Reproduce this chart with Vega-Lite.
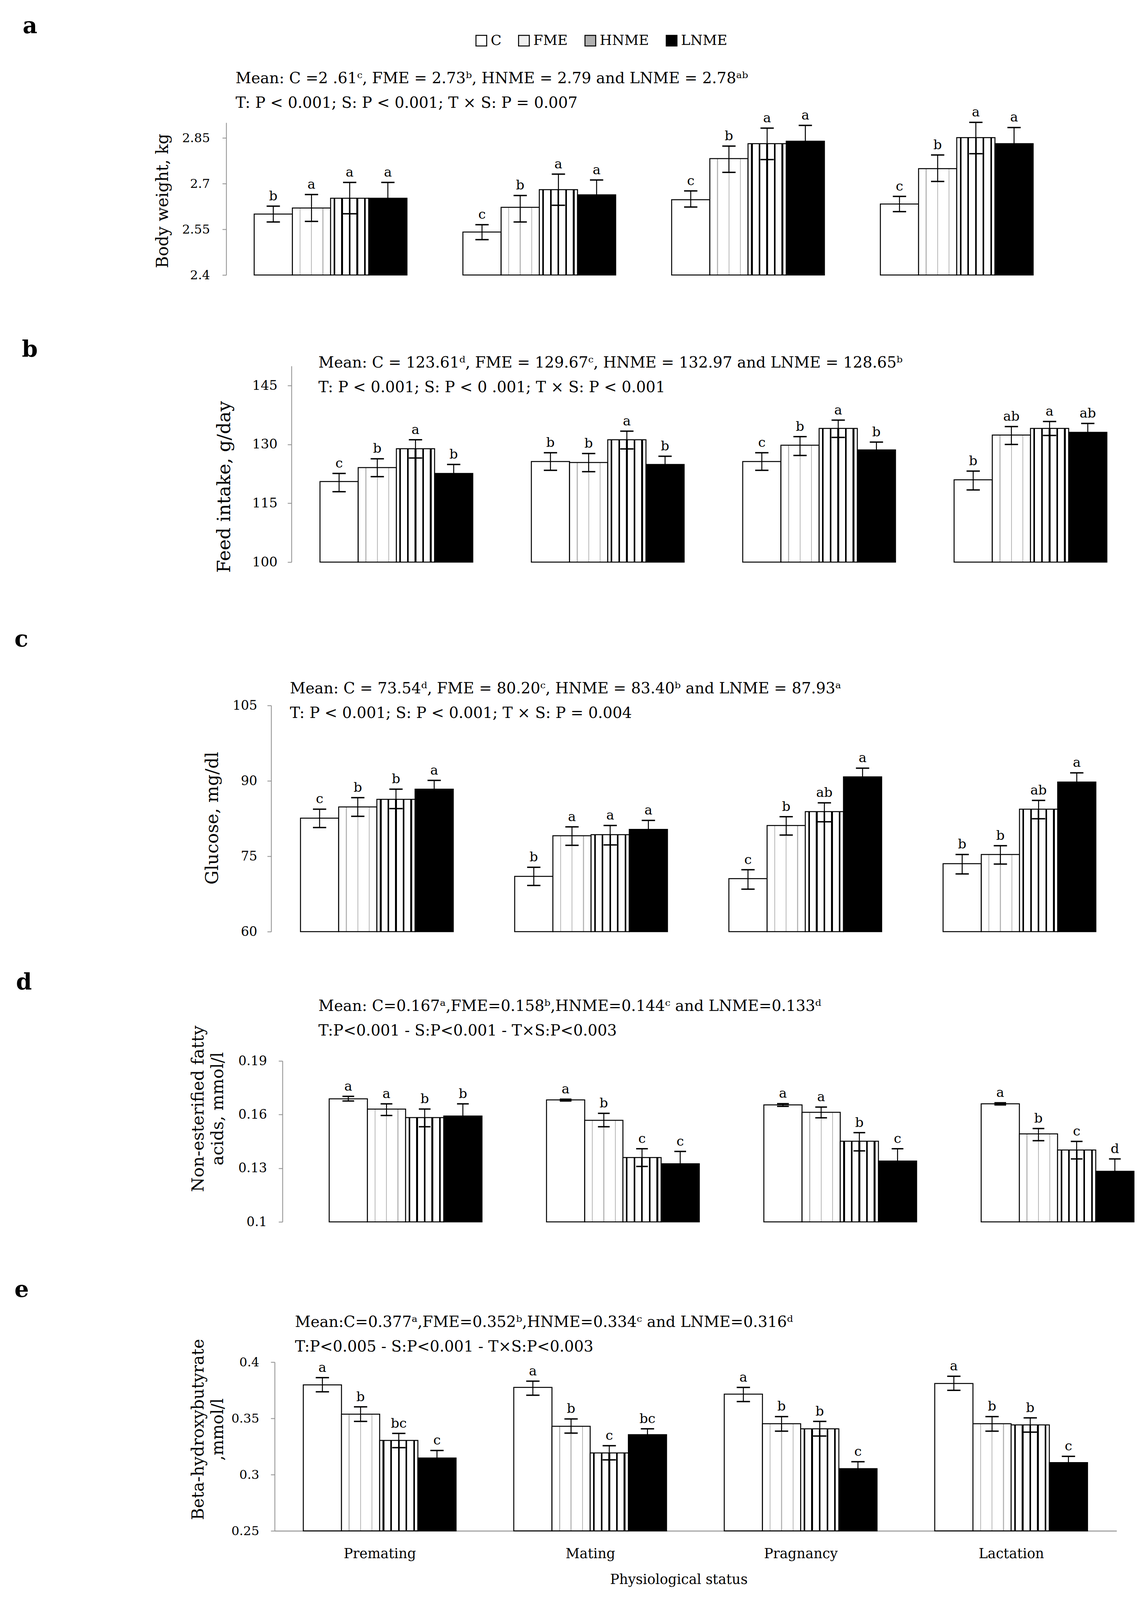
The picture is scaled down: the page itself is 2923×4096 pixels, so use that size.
{
"$schema": "https://vega.github.io/schema/vega-lite/v6.json",
"background": "white",
"padding": {"left": 37, "top": 39, "right": 0, "bottom": 5},
"autosize": {"type": "pad"},
"bounds": "flush",
"spacing": 0,
"config": {"view": {"stroke": null}, "font": "DejaVu Serif", "axis": {"grid": false}},
"datasets": {
"a": [
{"s":"Premating","t":"C","m":2.600,"lo":2.574,"hi":2.626,"g":"b"},
{"s":"Premating","t":"FME","m":2.620,"lo":2.576,"hi":2.664,"g":"a"},
{"s":"Premating","t":"HNME","m":2.652,"lo":2.601,"hi":2.704,"g":"a"},
{"s":"Premating","t":"LNME","m":2.652,"lo":2.600,"hi":2.704,"g":"a"},
{"s":"Mating","t":"C","m":2.541,"lo":2.516,"hi":2.565,"g":"c"},
{"s":"Mating","t":"FME","m":2.622,"lo":2.574,"hi":2.661,"g":"b"},
{"s":"Mating","t":"HNME","m":2.680,"lo":2.629,"hi":2.731,"g":"a"},
{"s":"Mating","t":"LNME","m":2.663,"lo":2.614,"hi":2.712,"g":"a"},
{"s":"Pragnancy","t":"C","m":2.647,"lo":2.623,"hi":2.676,"g":"c"},
{"s":"Pragnancy","t":"FME","m":2.782,"lo":2.737,"hi":2.823,"g":"b"},
{"s":"Pragnancy","t":"HNME","m":2.831,"lo":2.779,"hi":2.882,"g":"a"},
{"s":"Pragnancy","t":"LNME","m":2.839,"lo":2.786,"hi":2.891,"g":"a"},
{"s":"Lactation","t":"C","m":2.633,"lo":2.608,"hi":2.658,"g":"c"},
{"s":"Lactation","t":"FME","m":2.749,"lo":2.707,"hi":2.794,"g":"b"},
{"s":"Lactation","t":"HNME","m":2.851,"lo":2.798,"hi":2.901,"g":"a"},
{"s":"Lactation","t":"LNME","m":2.831,"lo":2.778,"hi":2.884,"g":"a"}
],
"b": [
{"s":"Premating","t":"C","m":120.55,"lo":117.95,"hi":122.6,"g":"c"},
{"s":"Premating","t":"FME","m":124.1,"lo":121.8,"hi":126.35,"g":"b"},
{"s":"Premating","t":"HNME","m":128.9,"lo":126.55,"hi":131.2,"g":"a"},
{"s":"Premating","t":"LNME","m":122.6,"lo":120.3,"hi":124.9,"g":"b"},
{"s":"Mating","t":"C","m":125.65,"lo":123.4,"hi":127.9,"g":"b"},
{"s":"Mating","t":"FME","m":125.4,"lo":123.05,"hi":127.7,"g":"b"},
{"s":"Mating","t":"HNME","m":131.2,"lo":128.85,"hi":133.4,"g":"a"},
{"s":"Mating","t":"LNME","m":124.9,"lo":122.8,"hi":127.0,"g":"b"},
{"s":"Pragnancy","t":"C","m":125.65,"lo":123.4,"hi":127.9,"g":"c"},
{"s":"Pragnancy","t":"FME","m":129.8,"lo":127.2,"hi":132.0,"g":"b"},
{"s":"Pragnancy","t":"HNME","m":134.1,"lo":131.8,"hi":136.2,"g":"a"},
{"s":"Pragnancy","t":"LNME","m":128.6,"lo":126.6,"hi":130.6,"g":"b"},
{"s":"Lactation","t":"C","m":121.0,"lo":118.4,"hi":123.2,"g":"b"},
{"s":"Lactation","t":"FME","m":132.4,"lo":130.0,"hi":134.55,"g":"ab"},
{"s":"Lactation","t":"HNME","m":134.1,"lo":132.3,"hi":135.85,"g":"a"},
{"s":"Lactation","t":"LNME","m":133.1,"lo":130.85,"hi":135.35,"g":"ab"}
],
"c": [
{"s":"Premating","t":"C","m":82.58,"lo":80.71,"hi":84.37,"g":"c"},
{"s":"Premating","t":"FME","m":84.82,"lo":82.95,"hi":86.65,"g":"b"},
{"s":"Premating","t":"HNME","m":86.32,"lo":84.49,"hi":88.35,"g":"b"},
{"s":"Premating","t":"LNME","m":88.35,"lo":86.6,"hi":90.1,"g":"a"},
{"s":"Mating","t":"C","m":71.0,"lo":69.2,"hi":72.8,"g":"b"},
{"s":"Mating","t":"FME","m":79.09,"lo":77.18,"hi":80.84,"g":"a"},
{"s":"Mating","t":"HNME","m":79.29,"lo":77.26,"hi":81.12,"g":"a"},
{"s":"Mating","t":"LNME","m":80.35,"lo":78.56,"hi":82.14,"g":"a"},
{"s":"Pragnancy","t":"C","m":70.56,"lo":68.45,"hi":72.31,"g":"c"},
{"s":"Pragnancy","t":"FME","m":81.12,"lo":79.21,"hi":82.87,"g":"b"},
{"s":"Pragnancy","t":"HNME","m":83.88,"lo":81.85,"hi":85.63,"g":"ab"},
{"s":"Pragnancy","t":"LNME","m":90.79,"lo":89.0,"hi":92.53,"g":"a"},
{"s":"Lactation","t":"C","m":73.53,"lo":71.49,"hi":75.35,"g":"b"},
{"s":"Lactation","t":"FME","m":75.35,"lo":73.44,"hi":77.1,"g":"b"},
{"s":"Lactation","t":"HNME","m":84.37,"lo":82.46,"hi":86.12,"g":"ab"},
{"s":"Lactation","t":"LNME","m":89.77,"lo":87.94,"hi":91.6,"g":"a"}
],
"d": [
{"s":"Premating","t":"C","m":0.1688,"lo":0.1676,"hi":0.1702,"g":"a"},
{"s":"Premating","t":"FME","m":0.1631,"lo":0.1595,"hi":0.1660,"g":"a"},
{"s":"Premating","t":"HNME","m":0.1583,"lo":0.1532,"hi":0.1631,"g":"b"},
{"s":"Premating","t":"LNME","m":0.1592,"lo":0.1524,"hi":0.1660,"g":"b"},
{"s":"Mating","t":"C","m":0.1682,"lo":0.1676,"hi":0.1686,"g":"a"},
{"s":"Mating","t":"FME","m":0.1568,"lo":0.1532,"hi":0.1607,"g":"b"},
{"s":"Mating","t":"HNME","m":0.1360,"lo":0.1310,"hi":0.1409,"g":"c"},
{"s":"Mating","t":"LNME","m":0.1325,"lo":0.1256,"hi":0.1394,"g":"c"},
{"s":"Pragnancy","t":"C","m":0.1654,"lo":0.1646,"hi":0.1661,"g":"a"},
{"s":"Pragnancy","t":"FME","m":0.1613,"lo":0.1582,"hi":0.1642,"g":"a"},
{"s":"Pragnancy","t":"HNME","m":0.1451,"lo":0.1397,"hi":0.1499,"g":"b"},
{"s":"Pragnancy","t":"LNME","m":0.1340,"lo":0.1271,"hi":0.1409,"g":"c"},
{"s":"Lactation","t":"C","m":0.1660,"lo":0.1654,"hi":0.1666,"g":"a"},
{"s":"Lactation","t":"FME","m":0.1492,"lo":0.1454,"hi":0.1522,"g":"b"},
{"s":"Lactation","t":"HNME","m":0.1402,"lo":0.1352,"hi":0.1450,"g":"c"},
{"s":"Lactation","t":"LNME","m":0.1283,"lo":0.1214,"hi":0.1352,"g":"d"}
],
"e": [
{"s":"Premating","t":"C","m":0.3798,"lo":0.3736,"hi":0.3862,"g":"a"},
{"s":"Premating","t":"FME","m":0.3537,"lo":0.3473,"hi":0.3602,"g":"b"},
{"s":"Premating","t":"HNME","m":0.3304,"lo":0.3240,"hi":0.3366,"g":"bc"},
{"s":"Premating","t":"LNME","m":0.3148,"lo":0.3082,"hi":0.3214,"g":"c"},
{"s":"Mating","t":"C","m":0.3775,"lo":0.3706,"hi":0.3831,"g":"a"},
{"s":"Mating","t":"FME","m":0.3430,"lo":0.3369,"hi":0.3495,"g":"b"},
{"s":"Mating","t":"HNME","m":0.3193,"lo":0.3131,"hi":0.3257,"g":"c"},
{"s":"Mating","t":"LNME","m":0.3355,"lo":0.3303,"hi":0.3407,"g":"bc"},
{"s":"Pragnancy","t":"C","m":0.3715,"lo":0.3649,"hi":0.3775,"g":"a"},
{"s":"Pragnancy","t":"FME","m":0.3452,"lo":0.3386,"hi":0.3516,"g":"b"},
{"s":"Pragnancy","t":"HNME","m":0.3407,"lo":0.3343,"hi":0.3473,"g":"b"},
{"s":"Pragnancy","t":"LNME","m":0.3053,"lo":0.2991,"hi":0.3115,"g":"c"},
{"s":"Lactation","t":"C","m":0.3810,"lo":0.3749,"hi":0.3874,"g":"a"},
{"s":"Lactation","t":"FME","m":0.3452,"lo":0.3386,"hi":0.3516,"g":"b"},
{"s":"Lactation","t":"HNME","m":0.3442,"lo":0.3378,"hi":0.3504,"g":"b"},
{"s":"Lactation","t":"LNME","m":0.3107,"lo":0.3052,"hi":0.3162,"g":"c"}
]
},
"vconcat": [
 {"width": 100, "height": 1, "data": {"values": []}, "mark": {"type": "point", "opacity": 0},
  "title": {"text": "a", "anchor": "start", "frame": "group", "dx": 21, "offset": 215, "font": "DejaVu Serif", "fontSize": 58, "fontWeight": "bold", "color": "black"}},
 {"width": 100, "height": 1, "data": {"values": []}, "mark": {"type": "point", "opacity": 0},
  "title": {"text": ["Mean: C =2 .61ᶜ, FME = 2.73ᵇ, HNME = 2.79 and LNME = 2.78ᵃᵇ", "T: P < 0.001; S: P < 0.001; T × S: P = 0.007"], "anchor": "start", "frame": "group", "dx": 566, "offset": 29, "font": "DejaVu Serif", "fontSize": 39, "lineHeight": 63, "fontWeight": "normal", "color": "black", "limit": 3000}},
 {"width": 2679, "height": 390, "data": {"name": "a"},
  "encoding": {
   "x": {"field": "s", "type": "nominal", "sort": ["Premating","Mating","Pragnancy","Lactation"], "scale": {"range": [542, 2679], "paddingInner": 0.268, "paddingOuter": 0.134}, "axis": null},
   "xOffset": {"field": "t", "type": "nominal", "sort": ["C","FME","HNME","LNME"]}
  },
  "layer": [
   {"mark": {"type": "bar", "stroke": "black", "strokeWidth": 2.5},
    "encoding": {
     "y": {"field": "m", "type": "quantitative", "scale": {"domain": [2.4, 2.9], "zero": false, "nice": false},
       "axis": {"title": "Body weight, kg", "offset": -542, "values": [2.4, 2.55, 2.7, 2.85], "format": "~g", "labelFont": "DejaVu Serif", "labelFontSize": 32, "labelColor": "black", "labelPadding": 32, "tickSize": 10, "tickColor": "#8c8c8c", "tickWidth": 2, "domainColor": "#8c8c8c", "domainWidth": 2, "titleFont": "DejaVu Serif", "titleFontSize": 42, "titleFontWeight": "normal", "titleColor": "black", "titleX": -141, "titleY": 200, "titleBaseline": "bottom"}},
     "y2": {"datum": 2.4},
     "fill": {"field": "t", "type": "nominal",
       "scale": {"domain": ["C","FME","HNME","LNME"], "range": ["#ffffff","#f0f0f0","#b0b0b0","#000000"]},
       "legend": {"orient": "none", "legendX": 1177, "legendY": -226, "direction": "horizontal", "columns": 4, "title": null, "symbolType": "square", "symbolSize": 756, "symbolStrokeColor": "black", "symbolStrokeWidth": 2.5, "labelFont": "DejaVu Serif", "labelFontSize": 36, "labelColor": "black", "labelOffset": 6, "columnPadding": 38, "padding": 0},
       "condition": [
        {"test": "datum.t === 'HNME'", "value": {"gradient": "linear", "x1": 0, "y1": 0, "x2": 1, "y2": 0, "stops": [{"offset":0,"color":"#fff"},{"offset":0.078,"color":"#fff"},{"offset":0.078,"color":"#000"},{"offset":0.122,"color":"#000"},{"offset":0.122,"color":"#fff"},{"offset":0.278,"color":"#fff"},{"offset":0.278,"color":"#000"},{"offset":0.322,"color":"#000"},{"offset":0.322,"color":"#fff"},{"offset":0.478,"color":"#fff"},{"offset":0.478,"color":"#000"},{"offset":0.522,"color":"#000"},{"offset":0.522,"color":"#fff"},{"offset":0.678,"color":"#fff"},{"offset":0.678,"color":"#000"},{"offset":0.722,"color":"#000"},{"offset":0.722,"color":"#fff"},{"offset":0.878,"color":"#fff"},{"offset":0.878,"color":"#000"},{"offset":0.922,"color":"#000"},{"offset":0.922,"color":"#fff"},{"offset":1,"color":"#fff"}]}},
        {"test": "datum.t === 'FME'", "value": {"gradient": "linear", "x1": 0, "y1": 0, "x2": 1, "y2": 0, "stops": [{"offset":0,"color":"#fff"},{"offset":0.188,"color":"#fff"},{"offset":0.188,"color":"#b8b8b8"},{"offset":0.212,"color":"#b8b8b8"},{"offset":0.212,"color":"#fff"},{"offset":0.488,"color":"#fff"},{"offset":0.488,"color":"#b8b8b8"},{"offset":0.512,"color":"#b8b8b8"},{"offset":0.512,"color":"#fff"},{"offset":0.788,"color":"#fff"},{"offset":0.788,"color":"#b8b8b8"},{"offset":0.812,"color":"#b8b8b8"},{"offset":0.812,"color":"#fff"},{"offset":1,"color":"#fff"}]}}
       ]}
    }},
   {"mark": {"type": "rule", "stroke": "black", "strokeWidth": 2.5}, "encoding": {"y": {"field": "lo", "type": "quantitative"}, "y2": {"field": "hi"}}},
   {"mark": {"type": "tick", "color": "black", "size": 34, "thickness": 3.5, "opacity": 1}, "encoding": {"y": {"field": "hi", "type": "quantitative"}}},
   {"mark": {"type": "tick", "color": "black", "size": 34, "thickness": 3.5, "opacity": 1}, "encoding": {"y": {"field": "lo", "type": "quantitative"}}},
   {"mark": {"type": "text", "font": "DejaVu Serif", "fontSize": 34, "color": "black", "baseline": "alphabetic", "dy": -15}, "encoding": {"y": {"field": "hi", "type": "quantitative"}, "text": {"field": "g"}}}
  ]},
 {"width": 100, "height": 232, "data": {"values": []}, "mark": {"type": "point", "opacity": 0},
  "title": {"text": "b", "anchor": "start", "frame": "group", "dx": 19, "offset": -221, "font": "DejaVu Serif", "fontSize": 58, "fontWeight": "bold", "color": "black"}},
 {"width": 100, "height": 1, "data": {"values": []}, "mark": {"type": "point", "opacity": 0},
  "title": {"text": ["Mean: C = 123.61ᵈ, FME = 129.67ᶜ, HNME = 132.97 and LNME = 128.65ᵇ", "T: P < 0.001; S: P < 0 .001; T × S: P < 0.001"], "anchor": "start", "frame": "group", "dx": 778, "offset": -76, "font": "DejaVu Serif", "fontSize": 39, "lineHeight": 63, "fontWeight": "normal", "color": "black", "limit": 3000}},
 {"width": 2873, "height": 502, "data": {"name": "b"},
  "encoding": {
   "x": {"field": "s", "type": "nominal", "sort": ["Premating","Mating","Pragnancy","Lactation"], "scale": {"range": [709, 2873], "paddingInner": 0.27, "paddingOuter": 0.135}, "axis": null},
   "xOffset": {"field": "t", "type": "nominal", "sort": ["C","FME","HNME","LNME"]}
  },
  "layer": [
   {"mark": {"type": "bar", "stroke": "black", "strokeWidth": 2.5},
    "encoding": {
     "y": {"field": "m", "type": "quantitative", "scale": {"domain": [100, 150], "zero": false, "nice": false},
       "axis": {"title": "Feed intake, g/day", "offset": -709, "values": [100, 115, 130, 145], "format": "~g", "labelFont": "DejaVu Serif", "labelFontSize": 34, "labelColor": "black", "labelPadding": 26, "tickSize": 10, "tickColor": "#8c8c8c", "tickWidth": 2, "domainColor": "#8c8c8c", "domainWidth": 2, "titleFont": "DejaVu Serif", "titleFontSize": 47, "titleFontWeight": "normal", "titleColor": "black", "titleX": -148, "titleY": 309, "titleBaseline": "bottom"}},
     "y2": {"datum": 100},
     "fill": {"field": "t", "type": "nominal",
       "scale": {"domain": ["C","FME","HNME","LNME"], "range": ["#ffffff","#f0f0f0","#b0b0b0","#000000"]},
       "legend": {"orient": "none", "legendX": 1177, "legendY": -226, "direction": "horizontal", "columns": 4, "title": null, "symbolType": "square", "symbolSize": 756, "symbolStrokeColor": "black", "symbolStrokeWidth": 2.5, "labelFont": "DejaVu Serif", "labelFontSize": 36, "labelColor": "black", "labelOffset": 6, "columnPadding": 38, "padding": 0},
       "condition": [
        {"test": "datum.t === 'HNME'", "value": {"gradient": "linear", "x1": 0, "y1": 0, "x2": 1, "y2": 0, "stops": [{"offset":0,"color":"#fff"},{"offset":0.078,"color":"#fff"},{"offset":0.078,"color":"#000"},{"offset":0.122,"color":"#000"},{"offset":0.122,"color":"#fff"},{"offset":0.278,"color":"#fff"},{"offset":0.278,"color":"#000"},{"offset":0.322,"color":"#000"},{"offset":0.322,"color":"#fff"},{"offset":0.478,"color":"#fff"},{"offset":0.478,"color":"#000"},{"offset":0.522,"color":"#000"},{"offset":0.522,"color":"#fff"},{"offset":0.678,"color":"#fff"},{"offset":0.678,"color":"#000"},{"offset":0.722,"color":"#000"},{"offset":0.722,"color":"#fff"},{"offset":0.878,"color":"#fff"},{"offset":0.878,"color":"#000"},{"offset":0.922,"color":"#000"},{"offset":0.922,"color":"#fff"},{"offset":1,"color":"#fff"}]}},
        {"test": "datum.t === 'FME'", "value": {"gradient": "linear", "x1": 0, "y1": 0, "x2": 1, "y2": 0, "stops": [{"offset":0,"color":"#fff"},{"offset":0.188,"color":"#fff"},{"offset":0.188,"color":"#b8b8b8"},{"offset":0.212,"color":"#b8b8b8"},{"offset":0.212,"color":"#fff"},{"offset":0.488,"color":"#fff"},{"offset":0.488,"color":"#b8b8b8"},{"offset":0.512,"color":"#b8b8b8"},{"offset":0.512,"color":"#fff"},{"offset":0.788,"color":"#fff"},{"offset":0.788,"color":"#b8b8b8"},{"offset":0.812,"color":"#b8b8b8"},{"offset":0.812,"color":"#fff"},{"offset":1,"color":"#fff"}]}}
       ]}
    }},
   {"mark": {"type": "rule", "stroke": "black", "strokeWidth": 2.5}, "encoding": {"y": {"field": "lo", "type": "quantitative"}, "y2": {"field": "hi"}}},
   {"mark": {"type": "tick", "color": "black", "size": 34, "thickness": 3.5, "opacity": 1}, "encoding": {"y": {"field": "hi", "type": "quantitative"}}},
   {"mark": {"type": "tick", "color": "black", "size": 34, "thickness": 3.5, "opacity": 1}, "encoding": {"y": {"field": "lo", "type": "quantitative"}}},
   {"mark": {"type": "text", "font": "DejaVu Serif", "fontSize": 34, "color": "black", "baseline": "alphabetic", "dy": -15}, "encoding": {"y": {"field": "hi", "type": "quantitative"}, "text": {"field": "g"}}}
  ]},
 {"width": 100, "height": 366, "data": {"values": []}, "mark": {"type": "point", "opacity": 0},
  "title": {"text": "c", "anchor": "start", "frame": "group", "dx": 0, "offset": -228, "font": "DejaVu Serif", "fontSize": 58, "fontWeight": "bold", "color": "black"}},
 {"width": 100, "height": 1, "data": {"values": []}, "mark": {"type": "point", "opacity": 0},
  "title": {"text": ["Mean: C = 73.54ᵈ, FME = 80.20ᶜ, HNME = 83.40ᵇ and LNME = 87.93ᵃ", "T: P < 0.001; S: P < 0.001; T × S: P = 0.004"], "anchor": "start", "frame": "group", "dx": 705, "offset": -41, "font": "DejaVu Serif", "fontSize": 39, "lineHeight": 63, "fontWeight": "normal", "color": "black", "limit": 3000}},
 {"width": 2850, "height": 579, "data": {"name": "c"},
  "encoding": {
   "x": {"field": "s", "type": "nominal", "sort": ["Premating","Mating","Pragnancy","Lactation"], "scale": {"range": [657, 2850], "paddingInner": 0.274, "paddingOuter": 0.137}, "axis": null},
   "xOffset": {"field": "t", "type": "nominal", "sort": ["C","FME","HNME","LNME"]}
  },
  "layer": [
   {"mark": {"type": "bar", "stroke": "black", "strokeWidth": 2.5},
    "encoding": {
     "y": {"field": "m", "type": "quantitative", "scale": {"domain": [60, 105], "zero": false, "nice": false},
       "axis": {"title": "Glucose, mg/dl", "offset": -657, "values": [60, 75, 90, 105], "format": "~g", "labelFont": "DejaVu Serif", "labelFontSize": 33, "labelColor": "black", "labelPadding": 26, "tickSize": 10, "tickColor": "#8c8c8c", "tickWidth": 2, "domainColor": "#8c8c8c", "domainWidth": 2, "titleFont": "DejaVu Serif", "titleFontSize": 45, "titleFontWeight": "normal", "titleColor": "black", "titleX": -128, "titleY": 288, "titleBaseline": "bottom"}},
     "y2": {"datum": 60},
     "fill": {"field": "t", "type": "nominal",
       "scale": {"domain": ["C","FME","HNME","LNME"], "range": ["#ffffff","#f0f0f0","#b0b0b0","#000000"]},
       "legend": {"orient": "none", "legendX": 1177, "legendY": -226, "direction": "horizontal", "columns": 4, "title": null, "symbolType": "square", "symbolSize": 756, "symbolStrokeColor": "black", "symbolStrokeWidth": 2.5, "labelFont": "DejaVu Serif", "labelFontSize": 36, "labelColor": "black", "labelOffset": 6, "columnPadding": 38, "padding": 0},
       "condition": [
        {"test": "datum.t === 'HNME'", "value": {"gradient": "linear", "x1": 0, "y1": 0, "x2": 1, "y2": 0, "stops": [{"offset":0,"color":"#fff"},{"offset":0.078,"color":"#fff"},{"offset":0.078,"color":"#000"},{"offset":0.122,"color":"#000"},{"offset":0.122,"color":"#fff"},{"offset":0.278,"color":"#fff"},{"offset":0.278,"color":"#000"},{"offset":0.322,"color":"#000"},{"offset":0.322,"color":"#fff"},{"offset":0.478,"color":"#fff"},{"offset":0.478,"color":"#000"},{"offset":0.522,"color":"#000"},{"offset":0.522,"color":"#fff"},{"offset":0.678,"color":"#fff"},{"offset":0.678,"color":"#000"},{"offset":0.722,"color":"#000"},{"offset":0.722,"color":"#fff"},{"offset":0.878,"color":"#fff"},{"offset":0.878,"color":"#000"},{"offset":0.922,"color":"#000"},{"offset":0.922,"color":"#fff"},{"offset":1,"color":"#fff"}]}},
        {"test": "datum.t === 'FME'", "value": {"gradient": "linear", "x1": 0, "y1": 0, "x2": 1, "y2": 0, "stops": [{"offset":0,"color":"#fff"},{"offset":0.188,"color":"#fff"},{"offset":0.188,"color":"#b8b8b8"},{"offset":0.212,"color":"#b8b8b8"},{"offset":0.212,"color":"#fff"},{"offset":0.488,"color":"#fff"},{"offset":0.488,"color":"#b8b8b8"},{"offset":0.512,"color":"#b8b8b8"},{"offset":0.512,"color":"#fff"},{"offset":0.788,"color":"#fff"},{"offset":0.788,"color":"#b8b8b8"},{"offset":0.812,"color":"#b8b8b8"},{"offset":0.812,"color":"#fff"},{"offset":1,"color":"#fff"}]}}
       ]}
    }},
   {"mark": {"type": "rule", "stroke": "black", "strokeWidth": 2.5}, "encoding": {"y": {"field": "lo", "type": "quantitative"}, "y2": {"field": "hi"}}},
   {"mark": {"type": "tick", "color": "black", "size": 34, "thickness": 3.5, "opacity": 1}, "encoding": {"y": {"field": "hi", "type": "quantitative"}}},
   {"mark": {"type": "tick", "color": "black", "size": 34, "thickness": 3.5, "opacity": 1}, "encoding": {"y": {"field": "lo", "type": "quantitative"}}},
   {"mark": {"type": "text", "font": "DejaVu Serif", "fontSize": 34, "color": "black", "baseline": "alphabetic", "dy": -15}, "encoding": {"y": {"field": "hi", "type": "quantitative"}, "text": {"field": "g"}}}
  ]},
 {"width": 100, "height": 330, "data": {"values": []}, "mark": {"type": "point", "opacity": 0},
  "title": {"text": "d", "anchor": "start", "frame": "group", "dx": 4, "offset": -160, "font": "DejaVu Serif", "fontSize": 58, "fontWeight": "bold", "color": "black"}},
 {"width": 100, "height": 1, "data": {"values": []}, "mark": {"type": "point", "opacity": 0},
  "title": {"text": ["Mean: C=0.167ᵃ,FME=0.158ᵇ,HNME=0.144ᶜ and LNME=0.133ᵈ", "T:P<0.001 - S:P<0.001 - T×S:P<0.003"], "anchor": "start", "frame": "group", "dx": 778, "offset": 56, "font": "DejaVu Serif", "fontSize": 39, "lineHeight": 63, "fontWeight": "normal", "color": "black", "limit": 3000}},
 {"width": 2911, "height": 412, "data": {"name": "d"},
  "encoding": {
   "x": {"field": "s", "type": "nominal", "sort": ["Premating","Mating","Pragnancy","Lactation"], "scale": {"range": [686, 2911], "paddingInner": 0.43, "paddingOuter": 0.215}, "axis": null},
   "xOffset": {"field": "t", "type": "nominal", "sort": ["C","FME","HNME","LNME"]}
  },
  "layer": [
   {"mark": {"type": "bar", "stroke": "black", "strokeWidth": 2.5},
    "encoding": {
     "y": {"field": "m", "type": "quantitative", "scale": {"domain": [0.1, 0.19], "zero": false, "nice": false},
       "axis": {"title": ["Non-esterified fatty", "acids, mmol/l"], "offset": -686, "values": [0.1, 0.13, 0.16, 0.19], "format": "~g", "labelFont": "DejaVu Serif", "labelFontSize": 33, "labelColor": "black", "labelPadding": 30, "tickSize": 10, "tickColor": "#8c8c8c", "tickWidth": 2, "domainColor": "#8c8c8c", "domainWidth": 2, "titleFont": "DejaVu Serif", "titleFontSize": 43, "titleLineHeight": 50, "titleFontWeight": "normal", "titleColor": "black", "titleX": -194, "titleY": 122, "titleBaseline": "bottom"}},
     "y2": {"datum": 0.1},
     "fill": {"field": "t", "type": "nominal",
       "scale": {"domain": ["C","FME","HNME","LNME"], "range": ["#ffffff","#f0f0f0","#b0b0b0","#000000"]},
       "legend": {"orient": "none", "legendX": 1177, "legendY": -226, "direction": "horizontal", "columns": 4, "title": null, "symbolType": "square", "symbolSize": 756, "symbolStrokeColor": "black", "symbolStrokeWidth": 2.5, "labelFont": "DejaVu Serif", "labelFontSize": 36, "labelColor": "black", "labelOffset": 6, "columnPadding": 38, "padding": 0},
       "condition": [
        {"test": "datum.t === 'HNME'", "value": {"gradient": "linear", "x1": 0, "y1": 0, "x2": 1, "y2": 0, "stops": [{"offset":0,"color":"#fff"},{"offset":0.078,"color":"#fff"},{"offset":0.078,"color":"#000"},{"offset":0.122,"color":"#000"},{"offset":0.122,"color":"#fff"},{"offset":0.278,"color":"#fff"},{"offset":0.278,"color":"#000"},{"offset":0.322,"color":"#000"},{"offset":0.322,"color":"#fff"},{"offset":0.478,"color":"#fff"},{"offset":0.478,"color":"#000"},{"offset":0.522,"color":"#000"},{"offset":0.522,"color":"#fff"},{"offset":0.678,"color":"#fff"},{"offset":0.678,"color":"#000"},{"offset":0.722,"color":"#000"},{"offset":0.722,"color":"#fff"},{"offset":0.878,"color":"#fff"},{"offset":0.878,"color":"#000"},{"offset":0.922,"color":"#000"},{"offset":0.922,"color":"#fff"},{"offset":1,"color":"#fff"}]}},
        {"test": "datum.t === 'FME'", "value": {"gradient": "linear", "x1": 0, "y1": 0, "x2": 1, "y2": 0, "stops": [{"offset":0,"color":"#fff"},{"offset":0.188,"color":"#fff"},{"offset":0.188,"color":"#b8b8b8"},{"offset":0.212,"color":"#b8b8b8"},{"offset":0.212,"color":"#fff"},{"offset":0.488,"color":"#fff"},{"offset":0.488,"color":"#b8b8b8"},{"offset":0.512,"color":"#b8b8b8"},{"offset":0.512,"color":"#fff"},{"offset":0.788,"color":"#fff"},{"offset":0.788,"color":"#b8b8b8"},{"offset":0.812,"color":"#b8b8b8"},{"offset":0.812,"color":"#fff"},{"offset":1,"color":"#fff"}]}}
       ]}
    }},
   {"mark": {"type": "rule", "stroke": "black", "strokeWidth": 2.5}, "encoding": {"y": {"field": "lo", "type": "quantitative"}, "y2": {"field": "hi"}}},
   {"mark": {"type": "tick", "color": "black", "size": 30, "thickness": 3.5, "opacity": 1}, "encoding": {"y": {"field": "hi", "type": "quantitative"}}},
   {"mark": {"type": "tick", "color": "black", "size": 30, "thickness": 3.5, "opacity": 1}, "encoding": {"y": {"field": "lo", "type": "quantitative"}}},
   {"mark": {"type": "text", "font": "DejaVu Serif", "fontSize": 34, "color": "black", "baseline": "alphabetic", "dy": -15}, "encoding": {"y": {"field": "hi", "type": "quantitative"}, "text": {"field": "g"}}}
  ]},
 {"width": 100, "height": 358, "data": {"values": []}, "mark": {"type": "point", "opacity": 0},
  "title": {"text": "e", "anchor": "start", "frame": "group", "dx": 0, "offset": -204, "font": "DejaVu Serif", "fontSize": 58, "fontWeight": "bold", "color": "black"}},
 {"width": 100, "height": 1, "data": {"values": []}, "mark": {"type": "point", "opacity": 0},
  "title": {"text": ["Mean:C=0.377ᵃ,FME=0.352ᵇ,HNME=0.334ᶜ and LNME=0.316ᵈ", "T:P<0.005 - S:P<0.001 - T×S:P<0.003"], "anchor": "start", "frame": "group", "dx": 718, "offset": 18, "font": "DejaVu Serif", "fontSize": 39, "lineHeight": 63, "fontWeight": "normal", "color": "black", "limit": 3000}},
 {"width": 2821, "height": 432, "data": {"name": "e"},
  "encoding": {
   "x": {"field": "s", "type": "nominal", "sort": ["Premating","Mating","Pragnancy","Lactation"], "scale": {"range": [666, 2821], "paddingInner": 0.272, "paddingOuter": 0.136},
     "axis": {"title": "Physiological status", "labelAngle": 0, "labelLimit": 0, "labelFont": "DejaVu Serif", "labelFontSize": 35, "labelColor": "black", "labelPadding": 41, "ticks": false, "tickSize": 0, "domainColor": "#a6a6a6", "domainWidth": 3, "titleFont": "DejaVu Serif", "titleFontSize": 35, "titleFontWeight": "normal", "titleColor": "black", "titleX": 1700, "titleY": 135, "titleBaseline": "alphabetic"}},
   "xOffset": {"field": "t", "type": "nominal", "sort": ["C","FME","HNME","LNME"]}
  },
  "layer": [
   {"mark": {"type": "bar", "stroke": "black", "strokeWidth": 2.5},
    "encoding": {
     "y": {"field": "m", "type": "quantitative", "scale": {"domain": [0.25, 0.4], "zero": false, "nice": false},
       "axis": {"title": ["Beta-hydroxybutyrate", ",mmol/l"], "offset": -666, "values": [0.25, 0.3, 0.35, 0.4], "format": "~g", "labelFont": "DejaVu Serif", "labelFontSize": 32, "labelColor": "black", "labelPadding": 30, "tickSize": 10, "tickColor": "#8c8c8c", "tickWidth": 2, "domainColor": "#8c8c8c", "domainWidth": 2, "titleFont": "DejaVu Serif", "titleFontSize": 42, "titleLineHeight": 50, "titleFontWeight": "normal", "titleColor": "black", "titleX": -174, "titleY": 172, "titleBaseline": "bottom"}},
     "y2": {"datum": 0.25},
     "fill": {"field": "t", "type": "nominal",
       "scale": {"domain": ["C","FME","HNME","LNME"], "range": ["#ffffff","#f0f0f0","#b0b0b0","#000000"]},
       "legend": {"orient": "none", "legendX": 1177, "legendY": -226, "direction": "horizontal", "columns": 4, "title": null, "symbolType": "square", "symbolSize": 756, "symbolStrokeColor": "black", "symbolStrokeWidth": 2.5, "labelFont": "DejaVu Serif", "labelFontSize": 36, "labelColor": "black", "labelOffset": 6, "columnPadding": 38, "padding": 0},
       "condition": [
        {"test": "datum.t === 'HNME'", "value": {"gradient": "linear", "x1": 0, "y1": 0, "x2": 1, "y2": 0, "stops": [{"offset":0,"color":"#fff"},{"offset":0.078,"color":"#fff"},{"offset":0.078,"color":"#000"},{"offset":0.122,"color":"#000"},{"offset":0.122,"color":"#fff"},{"offset":0.278,"color":"#fff"},{"offset":0.278,"color":"#000"},{"offset":0.322,"color":"#000"},{"offset":0.322,"color":"#fff"},{"offset":0.478,"color":"#fff"},{"offset":0.478,"color":"#000"},{"offset":0.522,"color":"#000"},{"offset":0.522,"color":"#fff"},{"offset":0.678,"color":"#fff"},{"offset":0.678,"color":"#000"},{"offset":0.722,"color":"#000"},{"offset":0.722,"color":"#fff"},{"offset":0.878,"color":"#fff"},{"offset":0.878,"color":"#000"},{"offset":0.922,"color":"#000"},{"offset":0.922,"color":"#fff"},{"offset":1,"color":"#fff"}]}},
        {"test": "datum.t === 'FME'", "value": {"gradient": "linear", "x1": 0, "y1": 0, "x2": 1, "y2": 0, "stops": [{"offset":0,"color":"#fff"},{"offset":0.188,"color":"#fff"},{"offset":0.188,"color":"#b8b8b8"},{"offset":0.212,"color":"#b8b8b8"},{"offset":0.212,"color":"#fff"},{"offset":0.488,"color":"#fff"},{"offset":0.488,"color":"#b8b8b8"},{"offset":0.512,"color":"#b8b8b8"},{"offset":0.512,"color":"#fff"},{"offset":0.788,"color":"#fff"},{"offset":0.788,"color":"#b8b8b8"},{"offset":0.812,"color":"#b8b8b8"},{"offset":0.812,"color":"#fff"},{"offset":1,"color":"#fff"}]}}
       ]}
    }},
   {"mark": {"type": "rule", "stroke": "black", "strokeWidth": 2.5}, "encoding": {"y": {"field": "lo", "type": "quantitative"}, "y2": {"field": "hi"}}},
   {"mark": {"type": "tick", "color": "black", "size": 34, "thickness": 3.5, "opacity": 1}, "encoding": {"y": {"field": "hi", "type": "quantitative"}}},
   {"mark": {"type": "tick", "color": "black", "size": 34, "thickness": 3.5, "opacity": 1}, "encoding": {"y": {"field": "lo", "type": "quantitative"}}},
   {"mark": {"type": "text", "font": "DejaVu Serif", "fontSize": 34, "color": "black", "baseline": "alphabetic", "dy": -15}, "encoding": {"y": {"field": "hi", "type": "quantitative"}, "text": {"field": "g"}}}
  ]}
]
}
